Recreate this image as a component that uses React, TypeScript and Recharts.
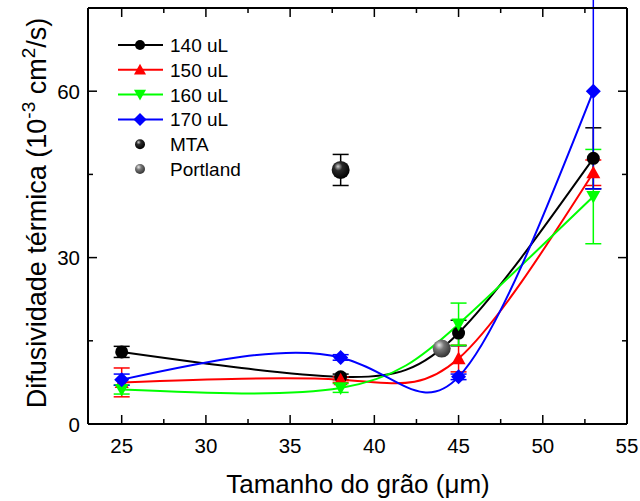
import React from 'react';
import { ComposedChart, Line, Scatter, XAxis, YAxis, ErrorBar, Customized } from 'recharts';

const sizes = [25, 38, 45, 53];
const v140 = [13, 8.5, 16.4, 47.9];
const e140 = [1, 0.5, 2.3, 5.5];
const v150 = [7.5, 8, 11.8, 45.3];
const e150 = [2.6, 0.5, 2.4, 2.3];
const v160 = [6.2, 6.5, 18, 41];
const e160 = [0.8, 0.8, 3.8, 8.5];
const v170 = [8, 12, 8.5, 60];
const e170 = [1, 0.5, 0.5, 17.6];
const mtaPoint = [{ x: 38, y: 45.8, err: 2.8 }];
const portlandPoint = [{ x: 44, y: 13.6, err: 0 }];
const xTicks = [25, 27.5, 30, 32.5, 35, 37.5, 40, 42.5, 45, 47.5, 50, 52.5, 55];
const yTicks = [0, 15, 30, 45, 60, 75];
const xMajor = [25, 30, 35, 40, 45, 50, 55];
const yMajor = [0, 30, 60];

const mk = (vals: number[], errs: number[]) => sizes.map((x, i) => ({ x, y: vals[i], err: errs[i] }));
const d140 = mk(v140, e140);
const d150 = mk(v150, e150);
const d160 = mk(v160, e160);
const d170 = mk(v170, e170);

const FONT = "Arial, 'Liberation Sans', sans-serif";
const GREEN = '#00ff00';

const shapePath = (kind: string, cx: number, cy: number, s: number) => {
  if (kind === 'up') return `M${cx},${cy - s} L${cx + s},${cy + s * 0.8} L${cx - s},${cy + s * 0.8} Z`;
  if (kind === 'down') return `M${cx},${cy + s} L${cx + s},${cy - s * 0.8} L${cx - s},${cy - s * 0.8} Z`;
  return `M${cx},${cy - s} L${cx + s},${cy} L${cx},${cy + s} L${cx - s},${cy} Z`;
};

const Marker = ({ kind, cx, cy, color, s }: any) => {
  if (kind === 'circle') return <circle cx={cx} cy={cy} r={s} fill={color} />;
  return <path d={shapePath(kind, cx, cy, s)} fill={color} />;
};

const makeDot = (kind: string, color: string, s: number) => (p: any) => (
  <Marker key={`${kind}-${p.index}`} kind={kind} cx={p.cx} cy={p.cy} color={color} s={s} />
);

const BottomTick = (p: any) => {
  const { x, y, payload } = p;
  const major = xMajor.includes(payload.value);
  return (
    <g>
      <line x1={x} x2={x} y1={y} y2={y - (major ? 9 : 5)} stroke="#000" strokeWidth={1.5} />
      {major && (
        <text x={x} y={y + 29} textAnchor="middle" fontSize={20.5} fontFamily={FONT} fill="#000">
          {payload.value}
        </text>
      )}
    </g>
  );
};
const TopTick = (p: any) => {
  const { x, y, payload } = p;
  const major = xMajor.includes(payload.value);
  return <line x1={x} x2={x} y1={y} y2={y + (major ? 9 : 5)} stroke="#000" strokeWidth={1.5} />;
};
const LeftTick = (p: any) => {
  const { x, y, payload } = p;
  const major = yMajor.includes(payload.value);
  return (
    <g>
      <line x1={x} x2={x + (major ? 9 : 5)} y1={y} y2={y} stroke="#000" strokeWidth={1.5} />
      {major && (
        <text x={x - 8} y={y + 7.5} textAnchor="end" fontSize={20.5} fontFamily={FONT} fill="#000">
          {payload.value}
        </text>
      )}
    </g>
  );
};
const RightTick = (p: any) => {
  const { x, y, payload } = p;
  const major = yMajor.includes(payload.value);
  return <line x1={x} x2={x - (major ? 9 : 5)} y1={y} y2={y} stroke="#000" strokeWidth={1.5} />;
};

const legendItems = [
  { label: '140 uL', color: '#000000', kind: 'circle', s: 5, line: true },
  { label: '150 uL', color: '#ff0000', kind: 'up', s: 6, line: true },
  { label: '160 uL', color: GREEN, kind: 'down', s: 6, line: true },
  { label: '170 uL', color: '#0000ff', kind: 'diamond', s: 6.5, line: true },
  { label: 'MTA', color: 'url(#gBlack)', kind: 'circle', s: 5, line: false },
  { label: 'Portland', color: 'url(#gGrey)', kind: 'circle', s: 5, line: false },
];

const Decor = () => (
  <g>
    <defs>
      <radialGradient id="gBlack" cx="40%" cy="35%" r="65%" fx="35%" fy="30%">
        <stop offset="0" stopColor="#cfcfcf" />
        <stop offset="0.35" stopColor="#2a2a2a" />
        <stop offset="1" stopColor="#000" />
      </radialGradient>
      <radialGradient id="gGrey" cx="40%" cy="35%" r="65%" fx="35%" fy="30%">
        <stop offset="0" stopColor="#e8e8e8" />
        <stop offset="0.4" stopColor="#777" />
        <stop offset="1" stopColor="#333" />
      </radialGradient>
    </defs>
    <text
      transform="translate(46,213) rotate(-90)"
      textAnchor="middle"
      fontSize={27}
      fontFamily={FONT}
      fill="#000"
    >
      Difusividade térmica (10
      <tspan fontSize={19} dy={-11}>-3</tspan>
      <tspan dy={11}> cm</tspan>
      <tspan fontSize={19} dy={-11}>2</tspan>
      <tspan dy={11}>/s)</tspan>
    </text>
    <text x={358} y={493} textAnchor="middle" fontSize={26} fontFamily={FONT} fill="#000">
      Tamanho do grão (μm)
    </text>
    {legendItems.map((it, i) => {
      const y = 45 + i * 24.8;
      return (
        <g key={it.label}>
          {it.line && <line x1={118} x2={163} y1={y} y2={y} stroke={it.color} strokeWidth={2} />}
          <Marker kind={it.kind} cx={140} cy={y} color={it.color} s={it.s} />
          <text x={170} y={y + 7} fontSize={19} fontFamily={FONT} fill="#000">
            {it.label}
          </text>
        </g>
      );
    })}
  </g>
);

export default function App() {
  return (
    <div style={{ position: 'absolute', left: 0, top: 0, width: 640, height: 501, background: '#fff' }}>
      <ComposedChart width={640} height={501} margin={{ top: 0, right: 0, bottom: 0, left: 0 }}>
        <XAxis
          xAxisId={0}
          dataKey="x"
          type="number"
          domain={[23, 55]}
          ticks={xTicks}
          interval={0}
          height={77}
          tickSize={0}
          tickMargin={0}
          tick={<BottomTick />}
          axisLine={{ stroke: '#000', strokeWidth: 2 }}
          allowDataOverflow
        />
        <XAxis
          xAxisId="top"
          orientation="top"
          dataKey="x"
          type="number"
          domain={[23, 55]}
          ticks={xTicks}
          interval={0}
          height={8}
          tickSize={0}
          tickMargin={0}
          tick={<TopTick />}
          axisLine={{ stroke: '#000', strokeWidth: 2 }}
          allowDataOverflow
        />
        <YAxis
          yAxisId={0}
          type="number"
          domain={[0, 75]}
          ticks={yTicks}
          interval={0}
          width={88}
          tickSize={0}
          tickMargin={0}
          tick={<LeftTick />}
          axisLine={{ stroke: '#000', strokeWidth: 2 }}
          allowDataOverflow
        />
        <YAxis
          yAxisId="right"
          orientation="right"
          type="number"
          domain={[0, 75]}
          ticks={yTicks}
          interval={0}
          width={13}
          tickSize={0}
          tickMargin={0}
          tick={<RightTick />}
          axisLine={{ stroke: '#000', strokeWidth: 2 }}
          allowDataOverflow
        />
        <Line data={d140} dataKey="y" type="natural" stroke="#000000" strokeWidth={2} dot={makeDot('circle', '#000000', 6.5)} isAnimationActive={false}>
          <ErrorBar dataKey="err" width={8} stroke="#000000" strokeWidth={1.5} direction="y" />
        </Line>
        <Line data={d150} dataKey="y" type="natural" stroke="#ff0000" strokeWidth={2} dot={makeDot('up', '#ff0000', 7)} isAnimationActive={false}>
          <ErrorBar dataKey="err" width={8} stroke="#ff0000" strokeWidth={1.5} direction="y" />
        </Line>
        <Line data={d160} dataKey="y" type="natural" stroke={GREEN} strokeWidth={2} dot={makeDot('down', GREEN, 7)} isAnimationActive={false}>
          <ErrorBar dataKey="err" width={8} stroke={GREEN} strokeWidth={1.5} direction="y" />
        </Line>
        <Line data={d170} dataKey="y" type="natural" stroke="#0000ff" strokeWidth={2} dot={makeDot('diamond', '#0000ff', 7.5)} isAnimationActive={false}>
          <ErrorBar dataKey="err" width={8} stroke="#0000ff" strokeWidth={1.5} direction="y" />
        </Line>
        <Scatter data={mtaPoint} dataKey="y" isAnimationActive={false} shape={(p: any) => <circle cx={p.cx} cy={p.cy} r={9} fill="url(#gBlack)" />}>
          <ErrorBar dataKey="err" width={8} stroke="#000000" strokeWidth={1.5} direction="y" />
        </Scatter>
        <Scatter data={portlandPoint} dataKey="y" isAnimationActive={false} shape={(p: any) => <circle cx={p.cx} cy={p.cy} r={9} fill="url(#gGrey)" />} />
        <Customized component={Decor} />
      </ComposedChart>
    </div>
  );
}
